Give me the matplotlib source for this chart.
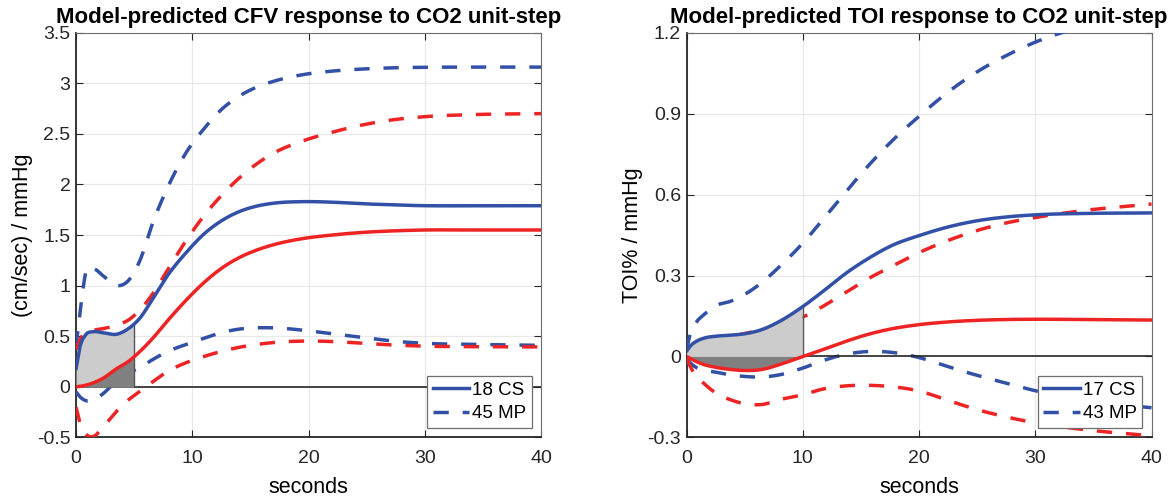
import numpy as np
import matplotlib
matplotlib.use('Agg')
import matplotlib.pyplot as plt

plt.rcParams['font.family'] = ['Liberation Sans', 'DejaVu Sans']

# ---- CFV panel (left) ----
cfv_t = [0, 0.35, 0.8, 1.5, 2.3, 3.5, 4.5, 5.5, 6.6, 8, 9.5, 11, 12.5, 14, 15.5, 17, 19.5, 22, 24.5, 27, 30, 34, 40]
cfv_cs = [0.18, 0.40, 0.51, 0.545, 0.535, 0.52, 0.575, 0.68, 0.87, 1.12, 1.33, 1.51, 1.64, 1.73, 1.785, 1.815,
	1.83, 1.825, 1.81, 1.80, 1.79, 1.79, 1.79]
cfv_mp = [0.0, 0.005, 0.015, 0.04, 0.083, 0.18, 0.25, 0.35, 0.48, 0.67, 0.86, 1.03, 1.17, 1.275, 1.35, 1.405,
	1.465, 1.5, 1.525, 1.54, 1.55, 1.55, 1.55]
cfv_cs_hi = [0.4, 0.74, 1.11, 1.165, 1.10, 1.0, 1.05, 1.25, 1.62, 2.0, 2.32, 2.55, 2.74, 2.87, 2.96, 3.02,
	3.085, 3.12, 3.14, 3.152, 3.158, 3.16, 3.16]
cfv_cs_lo = [-0.05, -0.10, -0.135, -0.13, -0.07, 0.06, 0.135, 0.19, 0.27, 0.355, 0.42, 0.48, 0.535, 0.57, 0.583, 0.583,
	0.56, 0.525, 0.49, 0.455, 0.43, 0.42, 0.41]
cfv_mp_hi = [0.37, 0.47, 0.535, 0.56, 0.575, 0.61, 0.66, 0.76, 0.92, 1.18, 1.45, 1.69, 1.89, 2.06, 2.20, 2.31,
	2.43, 2.515, 2.585, 2.635, 2.67, 2.69, 2.70]
cfv_mp_lo = [-0.2, -0.36, -0.46, -0.49, -0.40, -0.24, -0.13, -0.045, 0.05, 0.16, 0.24, 0.30, 0.35, 0.39, 0.418, 0.438,
	0.452, 0.448, 0.432, 0.415, 0.402, 0.397, 0.395]
cfv_ticks = [-0.5, 0, 0.5, 1, 1.5, 2, 2.5, 3, 3.5]
cfv_tick_labels = ['-0.5', '0', '0.5', '1', '1.5', '2', '2.5', '3', '3.5']
cfv_shade_end = 5

# ---- TOI panel (right) ----
toi_t = [0, 0.35, 0.8, 1.5, 2.5, 3.75, 5, 6.5, 8, 10, 11.7, 13.7, 15.7, 17.7, 20, 22.5, 25, 27.5, 30, 34, 40]
toi_cs = [0.02, 0.04, 0.055, 0.068, 0.075, 0.079, 0.084, 0.10, 0.13, 0.185, 0.24, 0.308, 0.365, 0.412, 0.448,
	0.48, 0.503, 0.517, 0.525, 0.53, 0.532]
toi_mp = [0.0, -0.008, -0.018, -0.03, -0.04, -0.048, -0.052, -0.048, -0.03, 0.0, 0.025, 0.056, 0.083, 0.103, 0.118,
	0.128, 0.134, 0.137, 0.138, 0.137, 0.135]
toi_cs_hi = [0.025, 0.09, 0.125, 0.155, 0.188, 0.204, 0.23, 0.275, 0.333, 0.42, 0.506, 0.61, 0.71, 0.80, 0.89,
	0.98, 1.055, 1.115, 1.165, 1.222, 1.28]
toi_cs_lo = [-0.005, -0.025, -0.04, -0.05, -0.058, -0.068, -0.074, -0.076, -0.068, -0.043, -0.016, 0.008, 0.0185,
	0.015, -0.004, -0.038, -0.07, -0.099, -0.127, -0.162, -0.19]
toi_mp_hi = [0.005, 0.035, 0.055, 0.065, 0.07, 0.075, 0.085, 0.10, 0.115, 0.146, 0.185, 0.238, 0.29, 0.335, 0.385,
	0.43, 0.467, 0.495, 0.515, 0.54, 0.565]
toi_mp_lo = [-0.005, -0.04, -0.07, -0.10, -0.135, -0.16, -0.175, -0.178, -0.16, -0.142, -0.121, -0.109, -0.107,
	-0.112, -0.128, -0.163, -0.197, -0.224, -0.246, -0.27, -0.294]
toi_ticks = [-0.3, 0, 0.3, 0.6, 0.9, 1.2]
toi_tick_labels = ['-0.3', '0', '0.3', '0.6', '0.9', '1.2']
toi_shade_end = 10

blue = '#3250a6'
red = '#ee2424'
axcol = '#262626'


def smooth(t, y, n=600):
	# cubic Hermite through the read points, 3-point slopes
	t = np.asarray(t, float)
	y = np.asarray(y, float)
	tt = np.linspace(t[0], t[-1], n)
	h = np.diff(t)
	d = np.diff(y) / h
	m = np.zeros_like(y)
	m[0] = d[0]
	m[-1] = d[-1]
	for i in range(1, len(y) - 1):
		m[i] = (h[i] * d[i - 1] + h[i - 1] * d[i]) / (h[i - 1] + h[i])
	idx = np.clip(np.searchsorted(t, tt) - 1, 0, len(t) - 2)
	s = (tt - t[idx]) / h[idx]
	h00 = 2 * s**3 - 3 * s**2 + 1
	h10 = s**3 - 2 * s**2 + s
	h01 = -2 * s**3 + 3 * s**2
	h11 = s**3 - s**2
	yy = h00 * y[idx] + h10 * h[idx] * m[idx] + h01 * y[idx + 1] + h11 * h[idx] * m[idx + 1]
	return tt, yy


def panel(ax, t, cs, mp, cs_hi, cs_lo, mp_hi, mp_lo, shade_end, ticks, labels, ylabel, title, leg):
	tt, ycs = smooth(t, cs)
	_, ymp = smooth(t, mp)
	lw = 2.5
	dash = (4.4, 4.0)
	for y, c in [(cs_hi, blue), (cs_lo, blue), (mp_hi, red), (mp_lo, red)]:
		_, yy = smooth(t, y)
		ax.plot(tt, yy, color=c, lw=lw, ls=(0, dash), zorder=3)
	ax.axhline(0, color=axcol, lw=1.2, zorder=4)
	sel = tt <= shade_end
	ax.fill_between(tt[sel], 0, ycs[sel], color='#cccccc', lw=0, zorder=4)
	ax.fill_between(tt[sel], 0, ymp[sel], color='#808080', lw=0, zorder=4)
	ax.plot([shade_end, shade_end], [0, np.interp(shade_end, tt, ycs)], color='#555555', lw=1.0, zorder=4)
	ax.plot(tt, ymp, color=red, lw=lw, zorder=5)
	ax.plot(tt, ycs, color=blue, lw=lw, zorder=6)
	ax.set_xlim(0, 40)
	ax.set_ylim(ticks[0], ticks[-1])
	ax.set_xticks([0, 10, 20, 30, 40])
	ax.set_yticks(ticks)
	ax.set_yticklabels(labels)
	ax.grid(True, color='#e8e8e8', lw=0.8)
	ax.set_axisbelow(True)
	ax.tick_params(direction='in', length=5, labelsize=14, colors='#262626', top=True, right=True)
	ax.tick_params(axis='x', pad=9)
	ax.tick_params(axis='y', pad=4)
	for side in ['left', 'bottom']:
		ax.spines[side].set_color(axcol)
		ax.spines[side].set_linewidth(1.3)
	for side in ['top', 'right']:
		ax.spines[side].set_color('#6e6e6e')
		ax.spines[side].set_linewidth(0.8)
	ax.set_xlabel('seconds', fontsize=15.5, labelpad=7)
	ax.set_ylabel(ylabel, fontsize=15.5, labelpad=3)
	ax.set_title(title, fontsize=16, fontweight='bold', pad=7)
	h1, = ax.plot([], [], color=blue, lw=lw)
	h2, = ax.plot([], [], color=blue, lw=lw, ls=(0, dash))
	lg = ax.legend([h1, h2], leg, loc='lower right', fontsize=13.5, frameon=True, fancybox=False,
		edgecolor='#6e6e6e', framealpha=1, borderpad=0.3, handlelength=1.95, handletextpad=0.15,
		labelspacing=0.35, borderaxespad=0.5)
	lg.get_frame().set_linewidth(0.9)
	lg.set_zorder(10)


fig = plt.figure(figsize=(11.68, 4.96), dpi=100)
ax1 = fig.add_axes([0.0651, 0.1181, 0.3981, 0.816])
ax2 = fig.add_axes([0.5878, 0.1181, 0.3981, 0.816])

panel(ax1, cfv_t, cfv_cs, cfv_mp, cfv_cs_hi, cfv_cs_lo, cfv_mp_hi, cfv_mp_lo, cfv_shade_end,
	cfv_ticks, cfv_tick_labels, '(cm/sec) / mmHg', 'Model-predicted CFV response to CO2 unit-step',
	['18 CS', '45 MP'])
panel(ax2, toi_t, toi_cs, toi_mp, toi_cs_hi, toi_cs_lo, toi_mp_hi, toi_mp_lo, toi_shade_end,
	toi_ticks, toi_tick_labels, 'TOI% / mmHg', 'Model-predicted TOI response to CO2 unit-step',
	['17 CS', '43 MP'])

fig.savefig('out.png', dpi=100)
